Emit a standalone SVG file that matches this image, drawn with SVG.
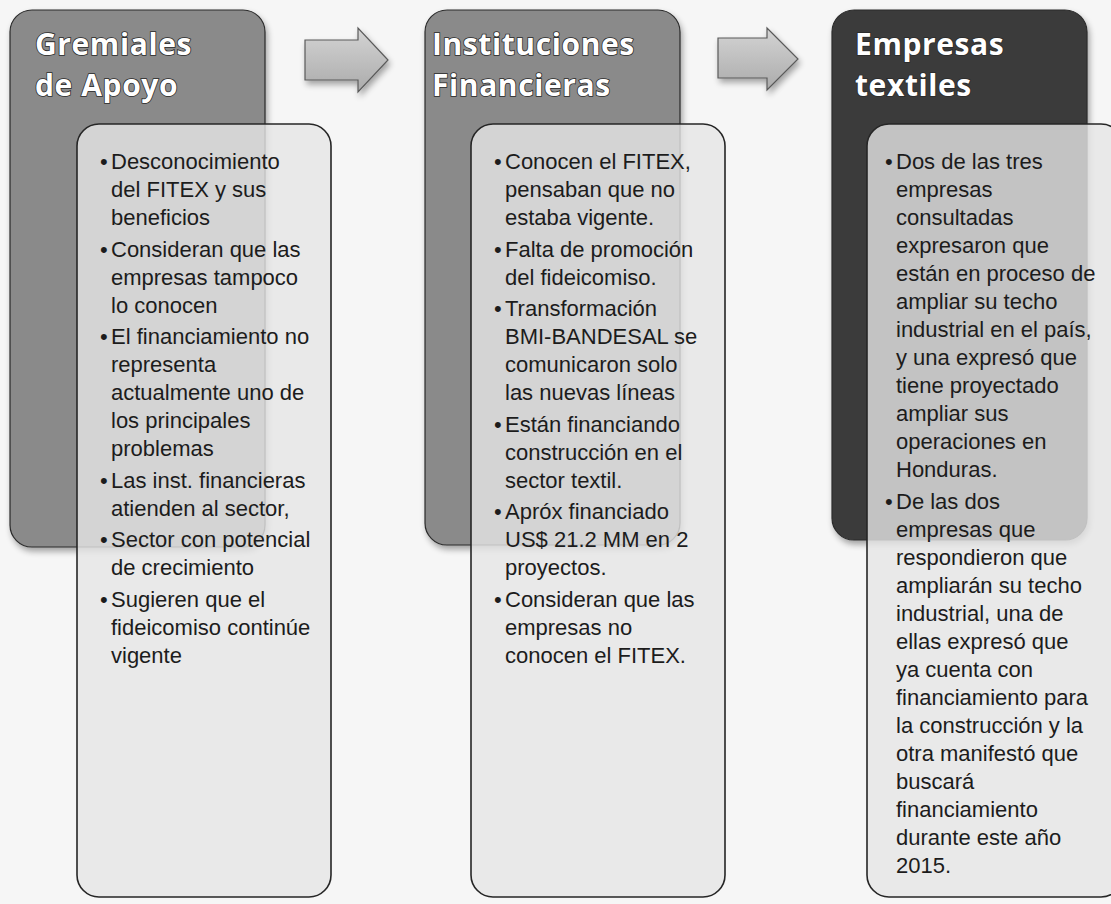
<svg xmlns="http://www.w3.org/2000/svg" width="1111" height="904" viewBox="0 0 1111 904">
  <defs>
    <filter id="shadow" x="-10%" y="-10%" width="130%" height="130%">
      <feGaussianBlur in="SourceAlpha" stdDeviation="3"/>
      <feOffset dx="2" dy="4" result="b"/>
      <feComponentTransfer><feFuncA type="linear" slope="0.35"/></feComponentTransfer>
      <feMerge><feMergeNode/><feMergeNode in="SourceGraphic"/></feMerge>
    </filter>
    <linearGradient id="arrowGrad" x1="0" y1="0" x2="0" y2="1">
      <stop offset="0" stop-color="#d4d4d4"/>
      <stop offset="1" stop-color="#ababab"/>
    </linearGradient>
  </defs>
  <style>
    .bg { fill: #f6f6f6; }
    .hdr { stroke: #2b2b2b; stroke-width: 1.2; filter: url(#shadow); }
    .hdr-mid { fill: #8a8a8a; }
    .hdr-dark { fill: #3b3b3b; }
    .body { fill: #e6e6e6; fill-opacity: 0.8; stroke: #262626; stroke-width: 1.6; }
    .title { font-family: "Open Sans", "Liberation Sans", sans-serif; font-weight: bold; font-size: 30px; letter-spacing: 0.6px; fill: #ffffff; stroke: #2a2a2a; stroke-width: 1.6; paint-order: stroke; }
    .txt { font-family: "Liberation Sans", Arial, sans-serif; font-size: 22px; fill: #1c1c1c; }
    .arrow { fill: url(#arrowGrad); stroke: #5a5a5a; stroke-width: 1.2; filter: url(#shadow); }
  </style>
  <rect class="bg" x="0" y="0" width="1111" height="904"/>

  <g id="gremiales">
    <rect class="hdr hdr-mid" x="10" y="10" width="255" height="537" rx="22"/>
    <text class="title" x="35" y="55">Gremiales</text>
    <text class="title" x="35" y="96">de Apoyo</text>
    <rect class="body" x="77" y="124" width="254" height="773" rx="22"/>
    <text class="txt">
      <tspan x="100" y="169">•</tspan><tspan x="111" y="169">Desconocimiento</tspan>
      <tspan x="111" y="197">del FITEX y sus</tspan>
      <tspan x="111" y="225">beneficios</tspan>
      <tspan x="100" y="256.5">•</tspan><tspan x="111" y="256.5">Consideran que las</tspan>
      <tspan x="111" y="284.5">empresas tampoco</tspan>
      <tspan x="111" y="312.5">lo conocen</tspan>
      <tspan x="100" y="344">•</tspan><tspan x="111" y="344">El financiamiento no</tspan>
      <tspan x="111" y="372">representa</tspan>
      <tspan x="111" y="400">actualmente uno de</tspan>
      <tspan x="111" y="428">los principales</tspan>
      <tspan x="111" y="456">problemas</tspan>
      <tspan x="100" y="487.5">•</tspan><tspan x="111" y="487.5">Las inst. financieras</tspan>
      <tspan x="111" y="515.5">atienden al sector,</tspan>
      <tspan x="100" y="547">•</tspan><tspan x="111" y="547">Sector con potencial</tspan>
      <tspan x="111" y="575">de crecimiento</tspan>
      <tspan x="100" y="606.5">•</tspan><tspan x="111" y="606.5">Sugieren que el</tspan>
      <tspan x="111" y="634.5">fideicomiso continúe</tspan>
      <tspan x="111" y="662.5">vigente</tspan>
    </text>
  </g>

  <g id="instituciones">
    <rect class="hdr hdr-mid" x="425" y="10" width="255" height="535" rx="22"/>
    <text class="title" x="432" y="55">Instituciones</text>
    <text class="title" x="432" y="96">Financieras</text>
    <rect class="body" x="471" y="124" width="254" height="773" rx="22"/>
    <text class="txt">
      <tspan x="494" y="169">•</tspan><tspan x="505" y="169">Conocen el FITEX,</tspan>
      <tspan x="505" y="197">pensaban que no</tspan>
      <tspan x="505" y="225">estaba vigente.</tspan>
      <tspan x="494" y="256.5">•</tspan><tspan x="505" y="256.5">Falta de promoción</tspan>
      <tspan x="505" y="284.5">del fideicomiso.</tspan>
      <tspan x="494" y="316">•</tspan><tspan x="505" y="316">Transformación</tspan>
      <tspan x="505" y="344">BMI-BANDESAL se</tspan>
      <tspan x="505" y="372">comunicaron solo</tspan>
      <tspan x="505" y="400">las nuevas líneas</tspan>
      <tspan x="494" y="431.5">•</tspan><tspan x="505" y="431.5">Están financiando</tspan>
      <tspan x="505" y="459.5">construcción en el</tspan>
      <tspan x="505" y="487.5">sector textil.</tspan>
      <tspan x="494" y="519">•</tspan><tspan x="505" y="519">Apróx financiado</tspan>
      <tspan x="505" y="547">US$ 21.2 MM en 2</tspan>
      <tspan x="505" y="575">proyectos.</tspan>
      <tspan x="494" y="606.5">•</tspan><tspan x="505" y="606.5">Consideran que las</tspan>
      <tspan x="505" y="634.5">empresas no</tspan>
      <tspan x="505" y="662.5">conocen el FITEX.</tspan>
    </text>
  </g>

  <g id="empresas">
    <rect class="hdr hdr-dark" x="832" y="10" width="255" height="530" rx="22"/>
    <text class="title" x="855" y="55">Empresas</text>
    <text class="title" x="855" y="96">textiles</text>
    <rect class="body" x="867" y="124" width="256" height="773" rx="22"/>
    <text class="txt">
      <tspan x="885" y="169">•</tspan><tspan x="896" y="169">Dos de las tres</tspan>
      <tspan x="896" y="197">empresas</tspan>
      <tspan x="896" y="225">consultadas</tspan>
      <tspan x="896" y="253">expresaron que</tspan>
      <tspan x="896" y="281">están en proceso de</tspan>
      <tspan x="896" y="309">ampliar su techo</tspan>
      <tspan x="896" y="337">industrial en el país,</tspan>
      <tspan x="896" y="365">y una expresó que</tspan>
      <tspan x="896" y="393">tiene proyectado</tspan>
      <tspan x="896" y="421">ampliar sus</tspan>
      <tspan x="896" y="449">operaciones en</tspan>
      <tspan x="896" y="477">Honduras.</tspan>
      <tspan x="885" y="508.5">•</tspan><tspan x="896" y="508.5">De las dos</tspan>
      <tspan x="896" y="536.5">empresas que</tspan>
      <tspan x="896" y="564.5">respondieron que</tspan>
      <tspan x="896" y="592.5">ampliarán su techo</tspan>
      <tspan x="896" y="620.5">industrial, una de</tspan>
      <tspan x="896" y="648.5">ellas expresó que</tspan>
      <tspan x="896" y="676.5">ya cuenta con</tspan>
      <tspan x="896" y="704.5">financiamiento para</tspan>
      <tspan x="896" y="732.5">la construcción y la</tspan>
      <tspan x="896" y="760.5">otra manifestó que</tspan>
      <tspan x="896" y="788.5">buscará</tspan>
      <tspan x="896" y="816.5">financiamiento</tspan>
      <tspan x="896" y="844.5">durante este año</tspan>
      <tspan x="896" y="872.5">2015.</tspan>
    </text>
  </g>

  <g id="connectors">
    <path class="arrow" d="M305,40 H358 V28 L388,60 L358,92 V80 H305 Z"/>
    <path class="arrow" d="M718,38 H767 V28 L798,59 L767,90 V78 H718 Z"/>
  </g>
</svg>
